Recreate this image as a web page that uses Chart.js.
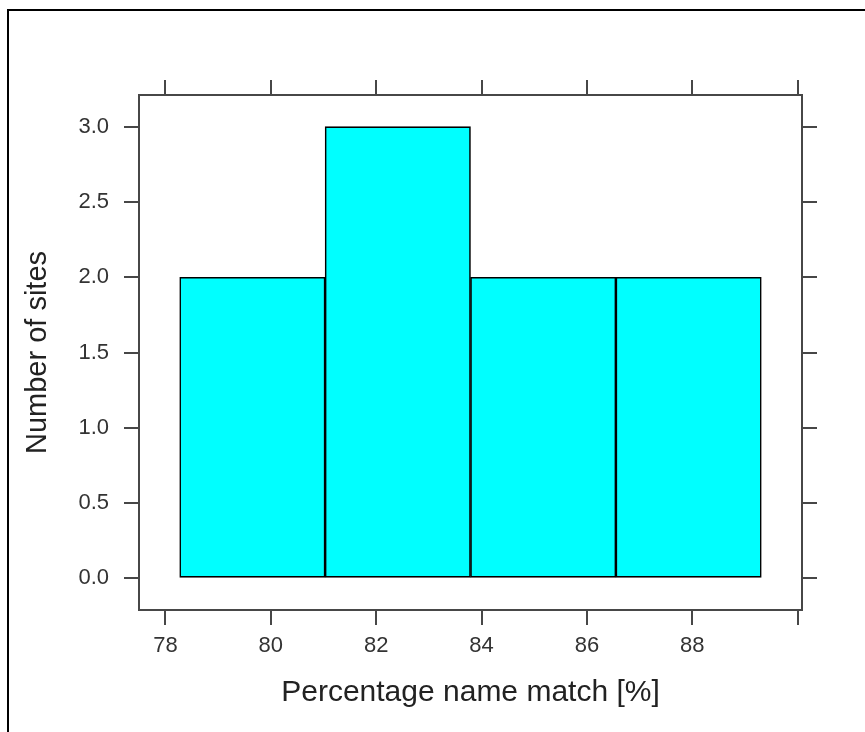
<!DOCTYPE html>
<html>
<head>
<meta charset="utf-8">
<script src="https://cdn.jsdelivr.net/npm/chart.js@4/dist/chart.umd.min.js"></script>
<style>
  html, body { margin: 0; padding: 0; background: #fff; }
  #wrap { position: relative; width: 865px; height: 732px; }
  #frame { position: absolute; left: 7px; top: 9px; right: -4px; bottom: -4px;
           border-top: 2px solid #000; border-left: 2px solid #000; pointer-events: none; }
  canvas { position: absolute; left: 0; top: 0; }
</style>
</head>
<body>
<div id="wrap">
  <canvas id="c" width="865" height="732"></canvas>
  <div id="frame"></div>
</div>
<script>
// Histogram bin edges (percentage name match) and site counts per bin
const binEdges = [78.27, 81.03, 83.79, 86.55, 89.31];
const counts = [2, 3, 2, 2];
const xTicks = [78, 80, 82, 84, 86, 88, 90];
const xLabels = ['78', '80', '82', '84', '86', '88', ''];
const yTicks = [0, 0.5, 1, 1.5, 2, 2.5, 3];

const xTitle = 'Percentage name match [%]';
const yTitle = 'Number of sites';

// lattice-style padding: 7% of the data range on each side
const xSpan = binEdges[binEdges.length - 1] - binEdges[0];
const xMin = binEdges[0] - 0.07 * xSpan;
const xMax = binEdges[binEdges.length - 1] + 0.07 * xSpan;
const yMin = -0.07 * Math.max(...counts);
const yMax = Math.max(...counts) * 1.07;

const points = counts.map((c, i) => ({ x: (binEdges[i] + binEdges[i + 1]) / 2, y: c }));

const FONT = '"Liberation Sans", Arial, Helvetica, sans-serif';
const axisColor = '#474747';
const tickFont = { family: FONT, size: 22 };

function tickMarks(values) {
  return function (scale) { scale.ticks = values.map(v => ({ value: v })); };
}

const gridOpts = { offset: false, drawOnChartArea: false, drawTicks: true, tickLength: 15, color: axisColor, lineWidth: 2 };
const borderOpts = { display: true, color: axisColor, width: 2 };

new Chart(document.getElementById('c'), {
  type: 'bar',
  data: {
    datasets: [{
      data: points,
      backgroundColor: '#00FFFF',
      borderColor: '#000',
      borderWidth: 1.6,
      borderSkipped: false,
      barThickness: 'flex',
      barPercentage: 1,
      categoryPercentage: 1,
      xAxisID: 'x',
      yAxisID: 'y'
    }]
  },
  options: {
    responsive: false,
    animation: false,
    layout: { padding: 0 },
    plugins: { legend: { display: false }, tooltip: { enabled: false } },
    scales: {
      x: {
        type: 'linear', position: 'bottom', min: xMin, max: xMax, offset: false,
        afterBuildTicks: tickMarks(xTicks),
        ticks: { autoSkip: false, maxRotation: 0, padding: 8, color: '#333', font: tickFont,
                 callback: (v) => { const i = xTicks.indexOf(v); return i >= 0 ? xLabels[i] : ''; } },
        grid: gridOpts, border: borderOpts,
        title: { display: true, text: xTitle, color: '#222', font: { family: FONT, size: 30 },
                 padding: { top: 0, bottom: 21 } },
        afterFit: (s) => { s.height = 122; }
      },
      x2: {
        type: 'linear', position: 'top', min: xMin, max: xMax, offset: false,
        afterBuildTicks: tickMarks(xTicks),
        ticks: { display: false },
        grid: gridOpts, border: borderOpts,
        afterFit: (s) => { s.height = 95; }
      },
      y: {
        type: 'linear', position: 'left', min: yMin, max: yMax,
        afterBuildTicks: tickMarks(yTicks),
        ticks: { autoSkip: false, padding: 15, color: '#333', font: tickFont,
                 callback: (v) => v.toFixed(1) },
        grid: gridOpts, border: borderOpts,
        title: { display: true, text: yTitle, color: '#222', font: { family: FONT, size: 29 },
                 padding: { top: 21, bottom: 0 } },
        afterFit: (s) => { s.width = 139; }
      },
      y2: {
        type: 'linear', position: 'right', min: yMin, max: yMax,
        afterBuildTicks: tickMarks(yTicks),
        ticks: { display: false },
        grid: gridOpts, border: borderOpts,
        afterFit: (s) => { s.width = 63; }
      }
    }
  }
});
</script>
</body>
</html>
